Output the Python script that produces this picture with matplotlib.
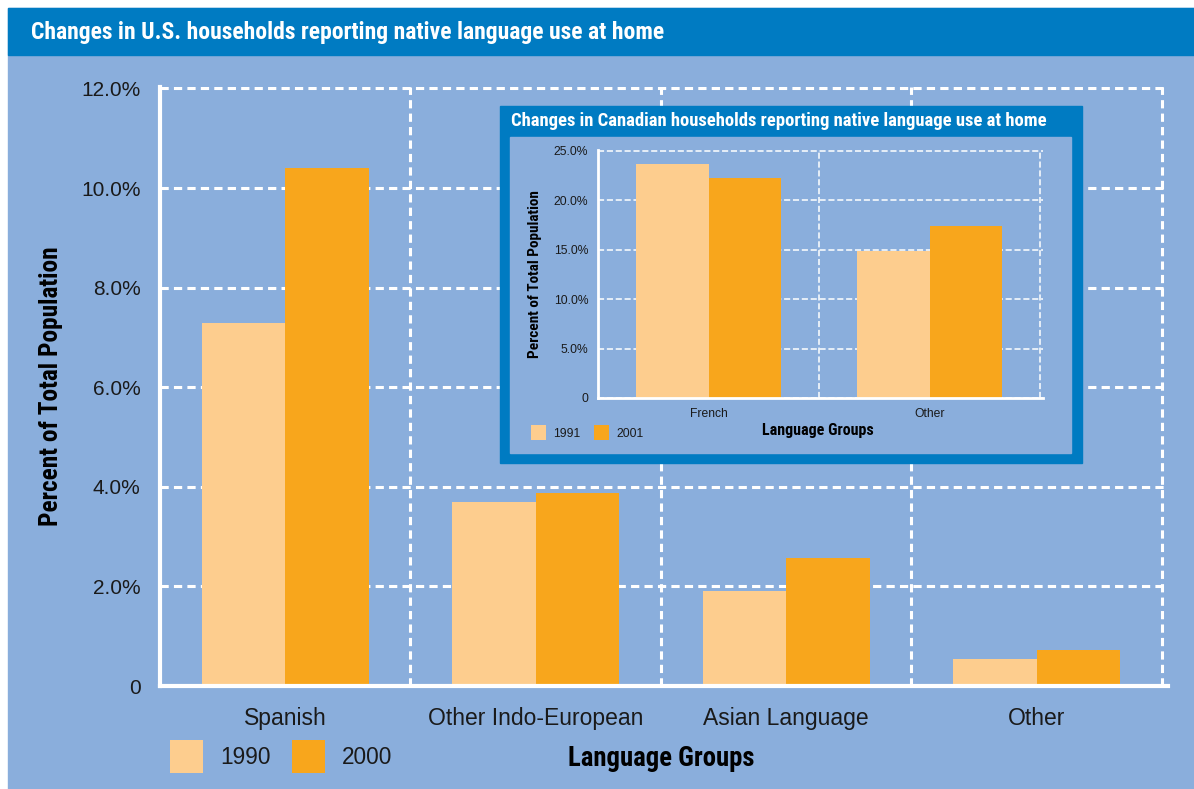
import numpy as np
import matplotlib.pyplot as plt
from matplotlib import font_manager
from matplotlib.patches import Rectangle

# ---- data -------------------------------------------------------------
US_GROUPS = ["Spanish", "Other Indo-European", "Asian Language", "Other"]
US_1990 = [7.3, 3.7, 1.9, 0.55]
US_2000 = [10.4, 3.87, 2.58, 0.72]
US_YEARS = ["1990", "2000"]
US_YTICKS = [0, 2, 4, 6, 8, 10, 12]

CA_GROUPS = ["French", "Other"]
CA_1991 = [23.6, 14.9]
CA_2001 = [22.2, 17.4]
CA_YEARS = ["1991", "2001"]
CA_YTICKS = [0, 5, 10, 15, 20, 25]

# ---- style ------------------------------------------------------------
BG = "#8aaedc"
TITLE_BLUE = "#007bc2"
C_OLD = "#fdcd8e"
C_NEW = "#f8a61c"
TXT = "#1a1a1a"

installed = {f.name for f in font_manager.fontManager.ttflist}


def pick(cands):
    found = [c for c in cands if c in installed]
    return (found[:1] or []) + ["DejaVu Sans"]


NARROW = pick(["Liberation Sans Narrow", "Roboto Condensed", "DejaVu Sans Condensed",
               "Open Sans Condensed", "Liberation Sans"])
PLAIN = pick(["Liberation Sans", "Roboto", "DejaVu Sans"])

W, H = 1194, 789


def px_rect(x0, y0, x1, y1):
    # pixel box (top-left origin) -> figure fraction [left, bottom, width, height]
    return [x0 / W, 1 - y1 / H, (x1 - x0) / W, (y1 - y0) / H]


def fmt_pct(v):
    return "0" if v == 0 else f"{v:.1f}%"


def style_axes(ax, yticks, ymax, n, tick_size, grid_lw, dash, spine_lw, pad):
    ax.set_facecolor("none")
    ax.set_ylim(0, ymax)
    ax.set_xlim(0, n + 0.006 * n)
    ax.set_yticks(yticks)
    ax.set_yticklabels([fmt_pct(v) for v in yticks], family=PLAIN,
                       fontsize=tick_size, color=TXT)
    ax.set_xticks(np.arange(n) + 0.5)
    ax.set_xticks(np.arange(1, n + 1), minor=True)
    ax.tick_params(which="both", length=0, pad=pad)
    ax.grid(axis="y", which="major", color="white", lw=grid_lw, linestyle=(0, dash))
    ax.grid(axis="x", which="minor", color="white", lw=grid_lw, linestyle=(0, dash))
    ax.set_axisbelow(True)
    for side in ("top", "right"):
        ax.spines[side].set_visible(False)
    for side in ("left", "bottom"):
        ax.spines[side].set_color("white")
        ax.spines[side].set_linewidth(spine_lw)


def fit_width(fig, txt, target_px):
    # size a bold heading to the width the condensed original takes
    r = fig.canvas.get_renderer()
    w = txt.get_window_extent(r).width
    txt.set_fontsize(txt.get_fontsize() * target_px / w)


fig = plt.figure(figsize=(W / 100, H / 100), dpi=100)
fig.patch.set_facecolor("white")

# background panels
fig.patches.append(Rectangle((8 / W, 0), 1, 1 - 8 / H, transform=fig.transFigure,
                             color=BG, zorder=-2))
fig.patches.append(Rectangle((8 / W, 1 - 55 / H), 1, 47 / H, transform=fig.transFigure,
                             color=TITLE_BLUE, zorder=-1))
title = fig.text(31 / W, 1 - 32 / H,
                 "Changes in U.S. households reporting native language use at home",
                 family=NARROW, weight="bold", fontsize=16, color="white",
                 va="center", ha="left")

# ---- main chart -------------------------------------------------------
ax = fig.add_axes(px_rect(160, 87, 1168, 686))
ax.set_zorder(1)
x = np.arange(len(US_GROUPS)) + 0.5
bw = 1 / 3
ax.bar(x - bw / 2, US_1990, bw, color=C_OLD, label=US_YEARS[0], zorder=2)
ax.bar(x + bw / 2, US_2000, bw, color=C_NEW, label=US_YEARS[1], zorder=2)
style_axes(ax, US_YTICKS, 12.03, len(US_GROUPS), 15, 2.2, (2.7, 1.7), 3.0, 14)
ax.set_xticklabels(US_GROUPS, family=PLAIN, fontsize=16.5, color=TXT)
ax.tick_params(axis="x", pad=15)
ax.set_ylabel("Percent of Total Population", family=NARROW, weight="bold",
              fontsize=18.3, color="black")
ax.yaxis.set_label_coords(-97 / 1008, 0.5)
ax.set_xlabel("Language Groups", family=NARROW, weight="bold", fontsize=19.3,
              color="black")
ax.xaxis.set_label_coords(0.497, -59 / 599)
leg = ax.legend(loc="lower left", bbox_to_anchor=(170 / W, 16 / H),
                bbox_transform=fig.transFigure, ncol=2, frameon=False,
                handlelength=1.45, handleheight=1.85, handletextpad=0.75,
                columnspacing=0.95, borderaxespad=0, borderpad=0,
                prop={"family": PLAIN, "size": 16.3})
for t in leg.get_texts():
    t.set_color(TXT)

# ---- inset (Canada) ---------------------------------------------------
fig.patches.append(Rectangle((500 / W, 1 - 463 / H), 582 / W, 357 / H,
                             transform=fig.transFigure, color=TITLE_BLUE, zorder=3))
fig.patches.append(Rectangle((510 / W, 1 - 453 / H), 561 / W, 316 / H,
                             transform=fig.transFigure, color=BG, zorder=3))
ititle = fig.text(511 / W, 1 - 121 / H,
                  "Changes in Canadian households reporting native language use at home",
                  family=NARROW, weight="bold", fontsize=11, color="white",
                  va="center", ha="left", zorder=4)

ax2 = fig.add_axes(px_rect(598, 150, 1043, 398))
ax2.set_zorder(5)
x2 = np.arange(len(CA_GROUPS)) + 0.5
bw2 = 0.327
ax2.bar(x2 - bw2 / 2, CA_1991, bw2, color=C_OLD, label=CA_YEARS[0], zorder=2)
ax2.bar(x2 + bw2 / 2, CA_2001, bw2, color=C_NEW, label=CA_YEARS[1], zorder=2)
style_axes(ax2, CA_YTICKS, 25.06, len(CA_GROUPS), 8.7, 1.1, (4, 1.8), 2.0, 7)
ax2.set_xticklabels(CA_GROUPS, family=PLAIN, fontsize=8.7, color=TXT)
ax2.tick_params(axis="x", pad=7)
ax2.set_ylabel("Percent of Total Population", family=NARROW, weight="bold",
               fontsize=11, color="black")
ax2.yaxis.set_label_coords(-56 / 445, 0.5)
ax2.set_xlabel("Language Groups", family=NARROW, weight="bold", fontsize=11.5,
               color="black")
ax2.xaxis.set_label_coords(220 / 445, -25 / 248)
leg2 = ax2.legend(loc="lower left", bbox_to_anchor=(531 / W, 1 - 440 / H),
                  bbox_transform=fig.transFigure, ncol=2, frameon=False,
                  handlelength=1.25, handleheight=1.5, handletextpad=0.6,
                  columnspacing=1.1, borderaxespad=0, borderpad=0,
                  prop={"family": PLAIN, "size": 8.7})
for t in leg2.get_texts():
    t.set_color(TXT)

fig.canvas.draw()
fit_width(fig, title, 634)
fit_width(fig, ititle, 535)

fig.savefig("out.png", dpi=100, facecolor=fig.get_facecolor())
